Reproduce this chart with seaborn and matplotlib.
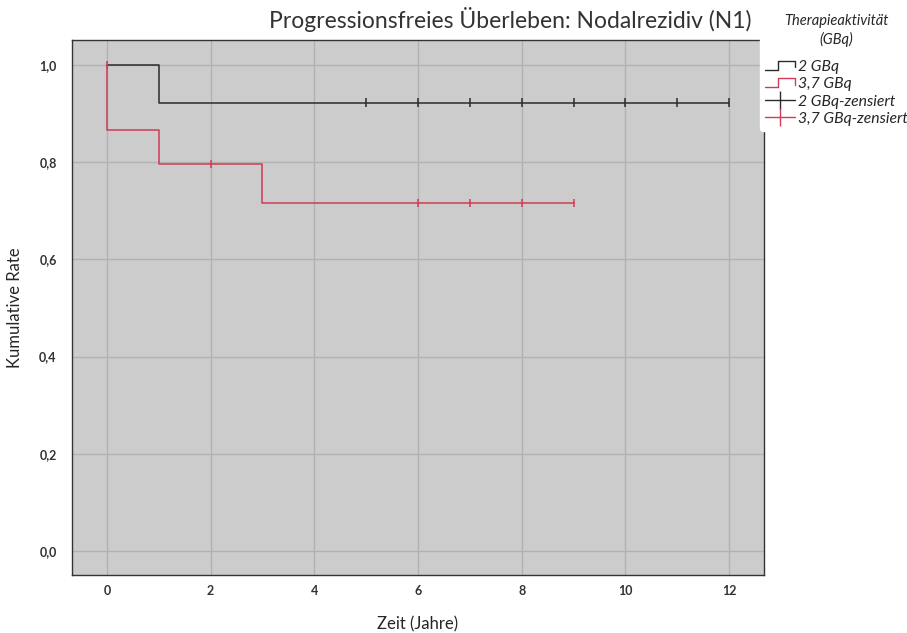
import seaborn as sns
import matplotlib.pyplot as plt
import pandas as pd
from matplotlib.legend_handler import HandlerBase
from matplotlib.lines import Line2D

# Kaplan-Meier Stufen
gruppen = ['2 GBq', '3,7 GBq']
zeit_2 = [0, 1, 12]
rate_2 = [1.0, 0.923, 0.923]
zeit_37 = [0, 0, 1, 3, 9]
rate_37 = [1.0, 0.867, 0.796, 0.716, 0.716]

# zensierte Fälle
zens_zeit_2 = [5, 6, 7, 8, 9, 10, 11, 12]
zens_rate_2 = [0.923] * 8
zens_zeit_37 = [0, 2, 6, 7, 8, 9]
zens_rate_37 = [1.0, 0.796, 0.716, 0.716, 0.716, 0.716]

farben = {'2 GBq': '#2b2b2b', '3,7 GBq': '#d23a55'}

df_kurve = pd.DataFrame({
    'Zeit': zeit_2 + zeit_37,
    'Rate': rate_2 + rate_37,
    'Gruppe': [gruppen[0]] * len(zeit_2) + [gruppen[1]] * len(zeit_37),
})
df_zens = pd.DataFrame({
    'Zeit': zens_zeit_2 + zens_zeit_37,
    'Rate': zens_rate_2 + zens_rate_37,
    'Gruppe': [gruppen[0]] * len(zens_zeit_2) + [gruppen[1]] * len(zens_zeit_37),
})

sns.set_style('white')
plt.rcParams['font.family'] = ['Lato', 'DejaVu Sans']

fig = plt.figure(figsize=(9.07, 6.33), dpi=100)
ax = fig.add_axes([72 / 907, 1 - 575 / 633, (764 - 72) / 907, (575 - 40) / 633])
ax.set_facecolor('#cccccc')

for g in gruppen:
    d = df_kurve[df_kurve['Gruppe'] == g]
    ax.plot(d['Zeit'], d['Rate'], drawstyle='steps-post', color=farben[g], lw=1.1, zorder=3)

sns.scatterplot(data=df_zens, x='Zeit', y='Rate', hue='Gruppe', palette=farben,
                marker='|', s=36, linewidth=1.1, legend=False, ax=ax, zorder=4)

ax.set_xlim(-0.675, 12.675)
ax.set_ylim(-0.05, 1.052)
ax.set_xticks(range(0, 13, 2))
ax.set_yticks([0, 0.2, 0.4, 0.6, 0.8, 1.0])
ax.set_yticklabels(['0,0', '0,2', '0,4', '0,6', '0,8', '1,0'])
ax.grid(True, color='#b2b2b2', lw=1)
ax.set_axisbelow(True)
ax.tick_params(axis='y', length=0, labelsize=9, pad=11)
ax.tick_params(axis='x', length=0, labelsize=9, pad=7)
for lab in ax.get_xticklabels() + ax.get_yticklabels():
    lab.set_fontweight('bold')
    lab.set_color('#333333')
for s in ax.spines.values():
    s.set_color('#333333')
    s.set_linewidth(1)

ax.set_xlabel('Zeit (Jahre)', fontsize=12, labelpad=14)
ax.set_ylabel('Kumulative Rate', fontsize=12, labelpad=12)

fig.text(510 / 907, 1 - 20 / 633, 'Progressionsfreies Überleben: Nodalrezidiv (N1)',
         ha='center', va='center', fontsize=16.5, color='#333333')


class StufenHandler(HandlerBase):
    def create_artists(self, legend, orig, xd, yd, w, h, fontsize, trans):
        xs = [xd, xd + w * 0.45, xd + w * 0.45, xd + w, xd + w]
        ys = [yd + h * 0.1, yd + h * 0.1, yd + h * 0.9, yd + h * 0.9, yd + h * 0.3]
        line = Line2D(xs, ys, color=orig.get_color(), lw=1, transform=trans)
        return [line]


h_2 = Line2D([], [], color=farben['2 GBq'])
h_37 = Line2D([], [], color=farben['3,7 GBq'])
h_z2 = Line2D([], [], color=farben['2 GBq'], marker='|', markersize=13, lw=1)
h_z37 = Line2D([], [], color=farben['3,7 GBq'], marker='|', markersize=13, lw=1)

leg = fig.legend([h_2, h_37, h_z2, h_z37],
                 ['2 GBq', '3,7 GBq', '2 GBq-zensiert', '3,7 GBq-zensiert'],
                 handler_map={h_2: StufenHandler(), h_37: StufenHandler()},
                 title='Therapieaktivität\n(GBq)', loc='upper left',
                 bbox_to_anchor=(757 / 907, 1 - 6 / 633), frameon=True,
                 facecolor='white', edgecolor='white', framealpha=1,
                 handlelength=1.9, handletextpad=0.2, labelspacing=0.22,
                 borderpad=0.3, borderaxespad=0.2, prop={'size': 11.3, 'style': 'italic'})
leg.get_title().set_fontstyle('italic')
leg.get_title().set_fontsize(10.5)
leg.get_title().set_multialignment('center')
leg.get_title().set_linespacing(1.35)
leg._legend_box.align = 'center'
leg._legend_box.sep = 9

fig.savefig('out.png', dpi=100)
